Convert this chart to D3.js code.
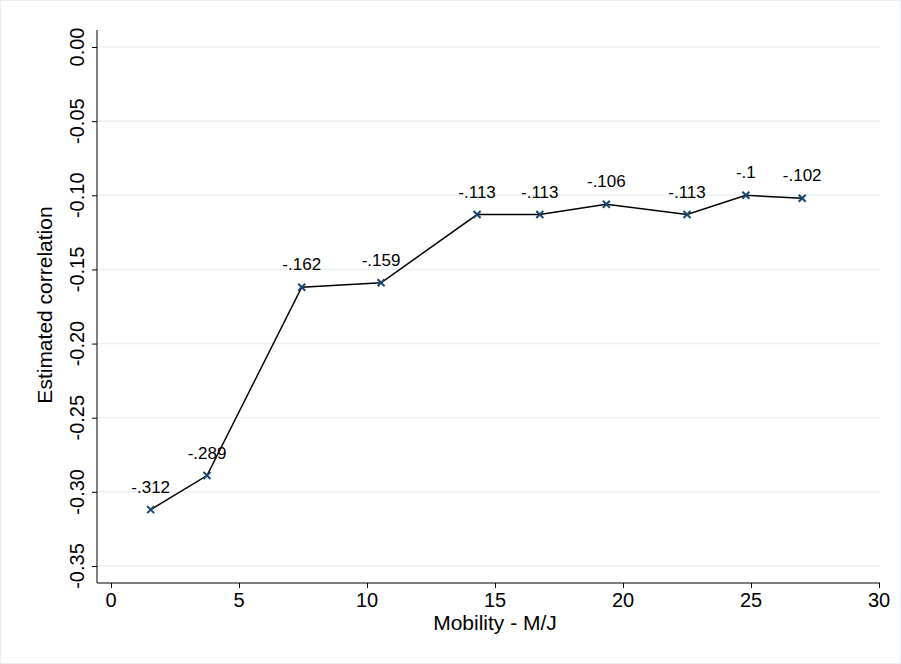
<!DOCTYPE html>
<html><head><meta charset="utf-8">
<script src="https://cdn.jsdelivr.net/npm/d3@7"></script>
<style>body{margin:0;background:#fff}svg text{font-family:Arial,"Liberation Sans",sans-serif}</style>
</head><body><svg id="c" width="901" height="664"></svg>
<script>
const mobility = [1.55, 3.75, 7.45, 10.55, 14.3, 16.75, 19.35, 22.5, 24.8, 27.0];
const correlation = [-0.312, -0.289, -0.162, -0.159, -0.113, -0.113, -0.106, -0.113, -0.1, -0.102];
const pointLabels = ["-.312", "-.289", "-.162", "-.159", "-.113", "-.113", "-.106", "-.113", "-.1", "-.102"];
const xTicks = [0, 5, 10, 15, 20, 25, 30];
const yTicks = [0, -0.05, -0.10, -0.15, -0.20, -0.25, -0.30, -0.35];

const svg = d3.select("#c");
svg.append("rect").attr("x",0.5).attr("y",0.5).attr("width",900).attr("height",663).attr("fill","#fff").attr("stroke","#e8eef3");
const x = d3.scaleLinear().domain([0,30]).range([111,879]);
const y = d3.scaleLinear().domain([-0.35,0]).range([566,47]);

svg.append("g").selectAll("line").data(yTicks).join("line")
  .attr("x1",97).attr("x2",880).attr("y1",d=>y(d)).attr("y2",d=>y(d))
  .attr("stroke","#eaf2f3").attr("stroke-width",1.5);

const ya = svg.append("g").attr("transform","translate(97,0)")
  .call(d3.axisLeft(y).tickValues(yTicks).tickFormat("").tickSize(5));
ya.select(".domain").attr("d","M0,30V583").attr("stroke","#000");
svg.append("g").selectAll("text").data(yTicks).join("text")
  .attr("transform",d=>`translate(84,${y(d)}) rotate(-90)`)
  .attr("text-anchor","middle").attr("font-size",20).text(d=>d3.format(".2f")(d).replace("−","-"));

const xa = svg.append("g").attr("transform","translate(0,583)")
  .call(d3.axisBottom(x).tickValues(xTicks).tickFormat("").tickSize(5));
xa.select(".domain").attr("d","M97,0H880").attr("stroke","#000");
svg.append("g").selectAll("text").data(xTicks).join("text")
  .attr("x",d=>x(d)).attr("y",607).attr("text-anchor","middle").attr("font-size",20).text(d=>d);

svg.append("text").attr("transform","rotate(-90)").attr("x",-305).attr("y",52)
  .attr("text-anchor","middle").attr("font-size",21).text("Estimated correlation");
svg.append("text").attr("x",495).attr("y",630).attr("text-anchor","middle").attr("font-size",21).text("Mobility - M/J");

const line = d3.line().x((d,i)=>x(mobility[i])).y(d=>y(d));
svg.append("path").datum(correlation).attr("d",line).attr("fill","none").attr("stroke","#000").attr("stroke-width",1.5);
svg.append("g").selectAll("path").data(correlation).join("path")
  .attr("d",(d,i)=>{const cx=x(mobility[i]),cy=y(d),r=3.5;return `M${cx-r},${cy-r}L${cx+r},${cy+r}M${cx-r},${cy+r}L${cx+r},${cy-r}`;})
  .attr("stroke","#1a476f").attr("stroke-width",2);
svg.append("g").selectAll("text").data(correlation).join("text")
  .attr("x",(d,i)=>x(mobility[i])).attr("y",d=>y(d)-17).attr("text-anchor","middle")
  .attr("font-size",17).text((d,i)=>pointLabels[i]);
</script></body></html>
